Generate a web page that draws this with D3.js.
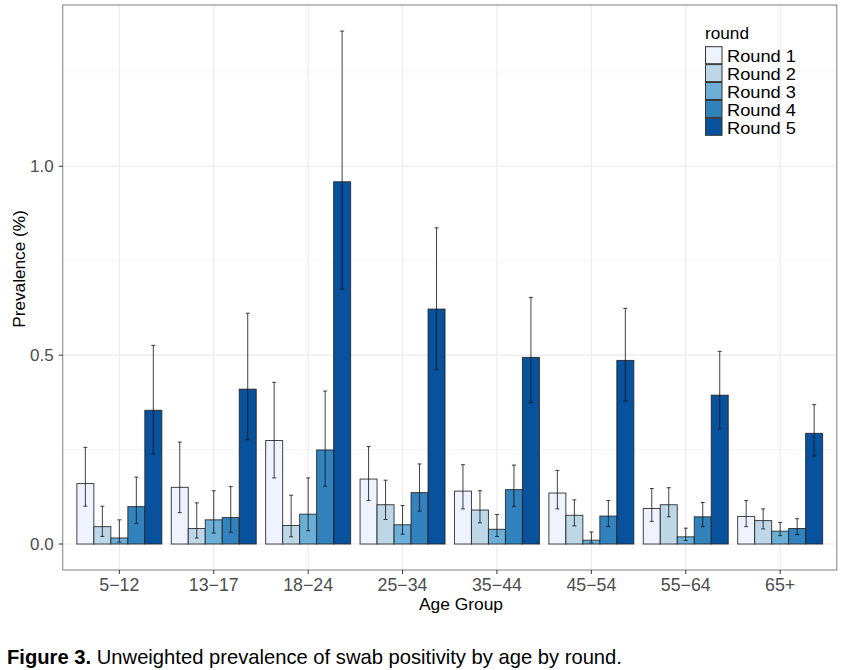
<!DOCTYPE html>
<html>
<head>
  <title>Prevalence by age by round</title>
  <script src="https://d3js.org/d3.v7.min.js"></script>
  <style>
    body { margin: 0; background: #fff; }
    text { font-family: "Liberation Sans", Arial, sans-serif; }
    .tick-label { fill: #4d4d4d; }
  </style>
</head>
<body>
  <div id="chart"></div>
  <script>
    // values (prevalence, %)
    const ageGroups = ["5-12", "13-17", "18-24", "25-34", "35-44", "45-54", "55-64", "65+"];
    const rounds = ["Round 1", "Round 2", "Round 3", "Round 4", "Round 5"];
    const colors = ["#eff3ff", "#bdd7e7", "#6baed6", "#3182bd", "#08519c"];
    const yTicks = [0, 0.5, 1.0];

    // one row per round, one value per age group
    const estimate = [
      [0.160, 0.150, 0.274, 0.172, 0.140, 0.135, 0.094, 0.073],
      [0.046, 0.041, 0.049, 0.104, 0.090, 0.076, 0.104, 0.062],
      [0.016, 0.064, 0.079, 0.051, 0.039, 0.010, 0.019, 0.034],
      [0.099, 0.070, 0.249, 0.136, 0.144, 0.074, 0.072, 0.041],
      [0.354, 0.410, 0.959, 0.622, 0.494, 0.486, 0.394, 0.293]
    ];
    const lower = [
      [0.100, 0.083, 0.175, 0.115, 0.093, 0.093, 0.060, 0.046],
      [0.020, 0.016, 0.019, 0.065, 0.056, 0.048, 0.072, 0.040],
      [0.005, 0.029, 0.035, 0.026, 0.020, 0.003, 0.009, 0.022],
      [0.054, 0.031, 0.153, 0.087, 0.099, 0.046, 0.046, 0.025],
      [0.238, 0.276, 0.675, 0.462, 0.374, 0.378, 0.305, 0.233]
    ];
    const upper = [
      [0.256, 0.270, 0.428, 0.258, 0.210, 0.195, 0.147, 0.115],
      [0.100, 0.109, 0.129, 0.169, 0.141, 0.117, 0.149, 0.093],
      [0.064, 0.141, 0.175, 0.102, 0.078, 0.032, 0.042, 0.057],
      [0.177, 0.152, 0.405, 0.212, 0.209, 0.115, 0.110, 0.067],
      [0.526, 0.611, 1.358, 0.837, 0.653, 0.624, 0.510, 0.369]
    ];

    const W = 851, H = 670;
    const panel = { left: 62.7, right: 836.8, top: 5, bottom: 570 };

    const svg = d3.select("#chart").append("svg")
      .attr("width", W).attr("height", H);

    // x: discrete scale with ggplot-like 0.6 expansion
    const step = (panel.right - panel.left) / (ageGroups.length - 1 + 1.2);
    const x = d3.scalePoint()
      .domain(ageGroups)
      .range([panel.left + 0.6 * step, panel.right - 0.6 * step]);

    const y = d3.scaleLinear()
      .domain([-0.0688, 1.427])
      .range([panel.bottom, panel.top]);

    const inner = d3.scaleBand()
      .domain(d3.range(rounds.length))
      .range([-0.45 * step, 0.45 * step]);

    // grid
    const grid = svg.append("g");
    [0.25, 0.75, 1.25].forEach(v => {
      grid.append("line")
        .attr("x1", panel.left).attr("x2", panel.right)
        .attr("y1", y(v)).attr("y2", y(v))
        .attr("stroke", "#f4f4f4").attr("stroke-width", 0.8);
    });
    yTicks.forEach(v => {
      grid.append("line")
        .attr("x1", panel.left).attr("x2", panel.right)
        .attr("y1", y(v)).attr("y2", y(v))
        .attr("stroke", "#ebebeb").attr("stroke-width", 1.1);
    });
    ageGroups.forEach(g => {
      grid.append("line")
        .attr("x1", x(g)).attr("x2", x(g))
        .attr("y1", panel.top).attr("y2", panel.bottom)
        .attr("stroke", "#ebebeb").attr("stroke-width", 1.1);
    });

    // bars
    const bars = [];
    rounds.forEach((r, ri) => {
      ageGroups.forEach((g, gi) => {
        bars.push({ g, ri, est: estimate[ri][gi], lo: lower[ri][gi], hi: upper[ri][gi] });
      });
    });

    svg.append("g").selectAll("rect")
      .data(bars)
      .enter().append("rect")
      .attr("x", d => x(d.g) + inner(d.ri))
      .attr("y", d => y(d.est))
      .attr("width", inner.bandwidth())
      .attr("height", d => y(0) - y(d.est))
      .attr("fill", d => colors[d.ri])
      .attr("stroke", "#222")
      .attr("stroke-opacity", 0.85)
      .attr("stroke-width", 1);

    // error bars
    const eb = svg.append("g")
      .attr("stroke", "#111")
      .attr("stroke-opacity", 0.8)
      .attr("stroke-width", 1);
    bars.forEach(d => {
      const cx = x(d.g) + inner(d.ri) + inner.bandwidth() / 2;
      eb.append("line").attr("x1", cx).attr("x2", cx)
        .attr("y1", y(d.lo)).attr("y2", y(d.hi));
      eb.append("line").attr("x1", cx - 2).attr("x2", cx + 2)
        .attr("y1", y(d.lo)).attr("y2", y(d.lo));
      eb.append("line").attr("x1", cx - 2).attr("x2", cx + 2)
        .attr("y1", y(d.hi)).attr("y2", y(d.hi));
    });

    // panel border
    svg.append("rect")
      .attr("x", panel.left).attr("y", panel.top)
      .attr("width", panel.right - panel.left)
      .attr("height", panel.bottom - panel.top)
      .attr("fill", "none").attr("stroke", "#8a8a8a").attr("stroke-width", 1.1);

    // y axis
    const yAxis = svg.append("g");
    yTicks.forEach(v => {
      yAxis.append("line")
        .attr("x1", panel.left - 4).attr("x2", panel.left)
        .attr("y1", y(v)).attr("y2", y(v))
        .attr("stroke", "#333");
      yAxis.append("text")
        .attr("class", "tick-label")
        .attr("font-size", 17)
        .attr("x", panel.left - 9).attr("y", y(v))
        .attr("dy", "0.36em")
        .attr("text-anchor", "end")
        .text(d3.format(".1f")(v));
    });

    // x axis
    const xAxis = svg.append("g");
    ageGroups.forEach(g => {
      xAxis.append("line")
        .attr("x1", x(g)).attr("x2", x(g))
        .attr("y1", panel.bottom).attr("y2", panel.bottom + 4)
        .attr("stroke", "#333");
      xAxis.append("text")
        .attr("class", "tick-label")
        .attr("font-size", 17.8)
        .attr("x", x(g)).attr("y", panel.bottom + 21)
        .attr("text-anchor", "middle")
        .text(g.replace("-", "\u2212"));
    });

    svg.append("text")
      .attr("x", 461).attr("y", 610)
      .attr("text-anchor", "middle")
      .attr("font-size", 17.4).attr("fill", "#000")
      .text("Age Group");

    svg.append("text")
      .attr("transform", "translate(25,269) rotate(-90)")
      .attr("text-anchor", "middle")
      .attr("font-size", 17.2).attr("fill", "#000")
      .text("Prevalence (%)");

    // legend
    const legend = svg.append("g").attr("transform", "translate(705,0)");
    legend.append("text")
      .attr("x", 0).attr("y", 39)
      .attr("font-size", 17.2).attr("fill", "#000")
      .text("round");
    rounds.forEach((r, i) => {
      const ly = 46.7 + i * 17.9;
      legend.append("rect")
        .attr("x", 0.5).attr("y", ly)
        .attr("width", 16.5).attr("height", 17)
        .attr("fill", colors[i])
        .attr("stroke", "#333").attr("stroke-width", 1);
      legend.append("text")
        .attr("x", 22).attr("y", ly + 9)
        .attr("dy", "0.38em")
        .attr("font-size", 16.4)
        .attr("textLength", 69).attr("lengthAdjust", "spacingAndGlyphs")
        .attr("fill", "#000")
        .text(r);
    });

    // caption
    const cap = svg.append("text")
      .attr("x", 7).attr("y", 664)
      .attr("font-size", 20.2).attr("fill", "#000");
    cap.append("tspan").attr("font-weight", "bold").text("Figure 3.");
    cap.append("tspan").text(" Unweighted prevalence of swab positivity by age by round.");
  </script>
</body>
</html>
